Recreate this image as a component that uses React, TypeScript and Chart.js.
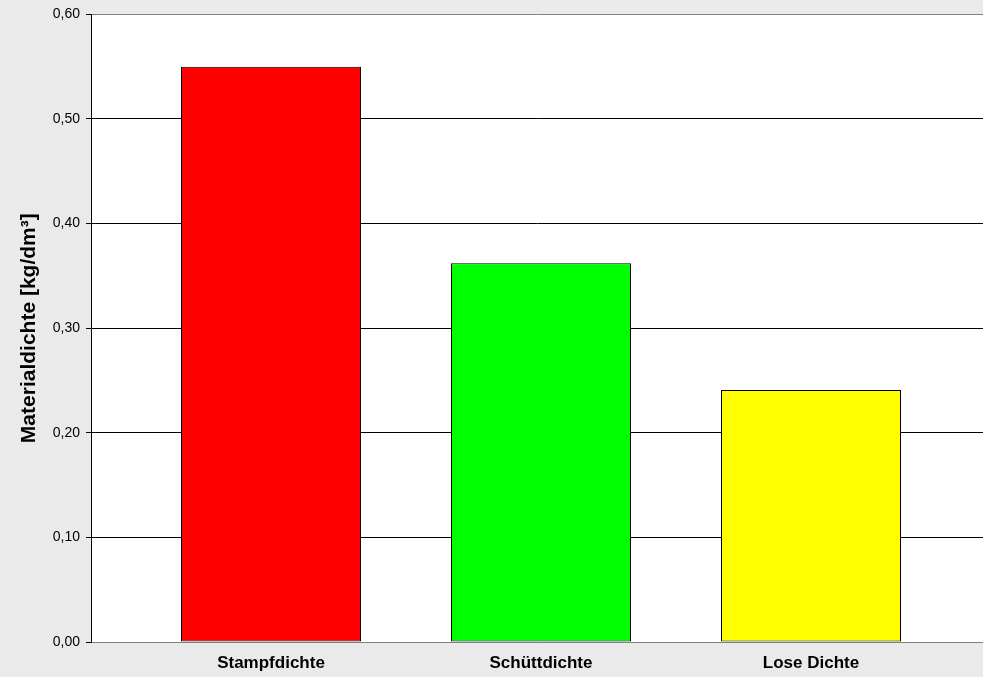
import React, { useEffect, useRef } from "react";
import { Chart, registerables } from "chart.js";

Chart.register(...registerables);

const categories = ["Stampfdichte", "Schüttdichte", "Lose Dichte"];
const values = [0.55, 0.362, 0.241];
const barColors = ["#ff0000", "#00ff00", "#ffff00"];
const yTicks = [0, 0.1, 0.2, 0.3, 0.4, 0.5, 0.6];
const yTitle = "Materialdichte [kg/dm³]";

const bgPlugin = {
  id: "bgPlugin",
  beforeDraw(chart: any) {
    const { ctx, chartArea, width, height } = chart;
    ctx.save();
    ctx.fillStyle = "#eaeaea";
    ctx.fillRect(0, 0, width, height);
    ctx.fillStyle = "#ffffff";
    ctx.fillRect(chartArea.left, chartArea.top, chartArea.right - chartArea.left, chartArea.bottom - chartArea.top);
    ctx.restore();
  },
};

export default function App() {
  const ref = useRef<HTMLCanvasElement | null>(null);
  useEffect(() => {
    if (!ref.current) return;
    const chart = new Chart(ref.current, {
      type: "bar",
      data: {
        datasets: [
          {
            data: values.map((v, i) => ({ x: i + 1, y: v })),
            backgroundColor: barColors,
            borderColor: "#000000",
            borderWidth: 1,
            borderSkipped: false,
            barPercentage: 1,
            categoryPercentage: 0.6667,
          },
        ],
      },
      options: {
        animation: false,
        responsive: false,
        maintainAspectRatio: false,
        layout: { padding: { top: 12, right: 0, left: 0, bottom: 0 } },
        plugins: { legend: { display: false }, tooltip: { enabled: false } },
        scales: {
          x: {
            type: "linear",
            offset: false,
            min: 1 / 3,
            max: 1 / 3 + 892 / 270,
            afterBuildTicks: (scale: any) => {
              scale.ticks = categories.map((_, i) => ({ value: i + 1 }));
            },
            afterFit: (scale: any) => {
              scale.height = 35;
            },
            grid: { display: false, drawTicks: false, offset: false },
            border: { display: true, color: "#808080", width: 1 },
            ticks: {
              autoSkip: false,
              maxRotation: 0,
              padding: 11,
              color: "#000000",
              font: { family: "'Liberation Sans', Arial, sans-serif", size: 17, weight: "bold" },
              callback: (v: any) => categories[Math.round(Number(v)) - 1] ?? "",
            },
          },
          y: {
            min: 0,
            max: 0.6,
            afterBuildTicks: (scale: any) => {
              scale.ticks = yTicks.map((v) => ({ value: v }));
            },
            afterFit: (scale: any) => {
              scale.width = 91;
            },
            grid: {
              color: (c: any) => (c.tick && (c.tick.value >= 0.59 || c.tick.value <= 0.001) ? "#808080" : "#000000"),
              tickColor: "#000000",
              tickLength: 5,
              lineWidth: 1,
            },
            border: { display: true, color: "#000000", width: 1 },
            ticks: {
              padding: 6,
              color: "#000000",
              font: { family: "'Liberation Sans', Arial, sans-serif", size: 14 },
              callback: (v: any) => Number(v).toFixed(2).replace(".", ","),
            },
            title: {
              display: true,
              text: yTitle,
              color: "#000000",
              padding: { top: 17, bottom: 0 },
              font: { family: "'Liberation Sans', Arial, sans-serif", size: 21, weight: "bold" },
            },
          },
        },
      },
      plugins: [bgPlugin],
    } as any);
    return () => chart.destroy();
  }, []);
  return (
    <div style={{ position: "fixed", left: 0, top: 0, width: 983, height: 677 }}>
      <canvas ref={ref} width={983} height={677} style={{ width: 983, height: 677, display: "block" }} />
    </div>
  );
}
